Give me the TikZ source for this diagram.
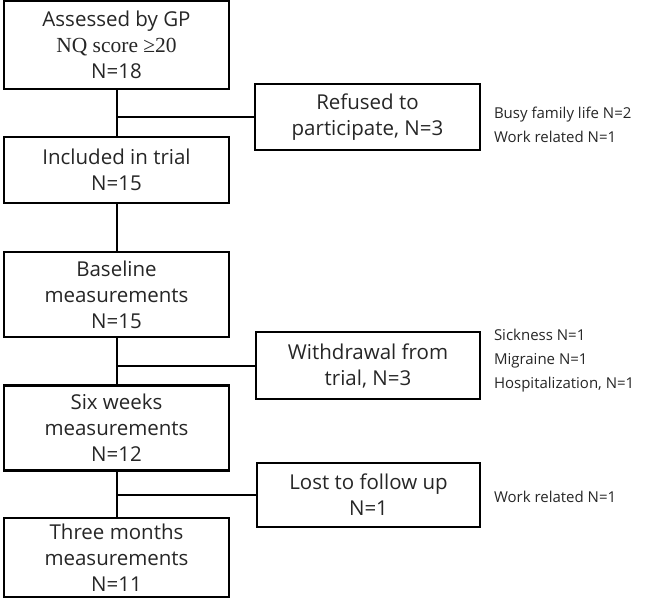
\documentclass[tikz,border=0pt]{standalone}
\usepackage{fontspec}
\setmainfont{Open Sans}
\newfontfamily\nqfont{Liberation Serif}
\usetikzlibrary{positioning,calc}

\begin{document}
\begin{tikzpicture}[x=1pt,y=-1pt,line width=2pt,font=\fontsize{20.5}{26}\selectfont]
\tikzstyle{box}=[draw,line width=2.6pt,minimum width=225pt,align=center,inner sep=0pt,text=black!85]
\tikzstyle{note}=[align=left,anchor=west,inner sep=0pt,text=black!85,font=\fontsize{15}{24}\selectfont]
\useasboundingbox (0,0) rectangle (671,611);
% main column
\node[box,minimum height=88pt] (gp) at (116.5,45) {Assessed by GP\\ {\nqfont\fontsize{21.5}{26}\selectfont NQ score ≥20}\\ N=18};
\node[box,minimum height=66pt] (incl) at (116.5,170) {Included in trial\\ N=15};
\node[box,minimum height=85pt] (base) at (116.5,294.5) {Baseline\\ measurements\\ N=15};
\node[box,minimum height=85pt] (six) at (116.5,428) {Six weeks\\ measurements\\ N=12};
\node[box,minimum height=79pt] (three) at (116.5,557.5) {Three months\\ measurements\\ N=11};
% exclusions
\node[box,minimum height=66pt] (ref) at (367.5,117) {Refused to\\ participate, N=3};
\node[box,minimum height=67pt,minimum width=224pt] (wd) at (368,365.5) {Withdrawal from\\ trial, N=3};
\node[box,minimum height=64pt,minimum width=223pt] (lost) at (368.5,495) {Lost to follow up\\ N=1};
\node[note] (refwhy) at (493,125) {Busy family life N=2\\ Work related N=1};
\node[note] (wdwhy) at (493,361) {Sickness N=1\\ Migraine N=1\\ Hospitalization, N=1};
\node[note] (lostwhy) at (493,497) {Work related N=1};
% connectors
\coordinate (j1) at (gp.south |- ref.west);
\coordinate (j2) at (base.south |- wd.west);
\coordinate (j3) at (six.south |- lost.west);
\draw (gp.south) -- (incl.north); \draw (j1) -- (ref.west);
\draw (incl.south) -- (base.north);
\draw (base.south) -- (six.north); \draw (j2) -- (wd.west);
\draw (six.south) -- (three.north); \draw (j3) -- (lost.west);
\end{tikzpicture}
\end{document}
